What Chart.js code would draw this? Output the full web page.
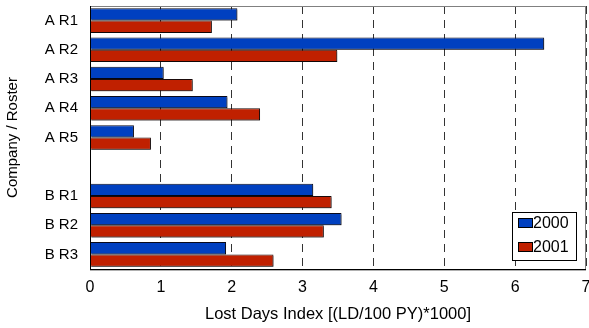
<!DOCTYPE html>
<html><head><meta charset="utf-8">
<script src="https://cdn.jsdelivr.net/npm/chart.js@4/dist/chart.umd.min.js"></script>
<style>html,body{margin:0;padding:0;background:#fff;}#wrap{width:589px;height:328px;}</style>
</head><body><div id="wrap"><canvas id="c" width="589" height="328"></canvas></div>
<script>
const categories = ['A R1','A R2','A R3','A R4','A R5','','B R1','B R2','B R3'];
const seriesNames = ['2000','2001'];
const values2000 = [2.08, 6.41, 1.04, 1.94, 0.62, null, 3.15, 3.55, 1.92];
const values2001 = [1.72, 3.49, 1.45, 2.40, 0.86, null, 3.41, 3.30, 2.59];
const xTicks = [0,1,2,3,4,5,6,7];
const xTitle = 'Lost Days Index [(LD/100 PY)*1000]';
const yTitle = 'Company / Roster';

const BLUE = '#0040C0', RED = '#C02000';
const FONT = 'Liberation Sans, Arial, sans-serif';

const shadowPlugin = {
  id: 'barShadow',
  beforeDatasetsDraw(chart) {
    const ctx = chart.ctx; ctx.save();
    ctx.shadowColor = 'rgba(0,0,0,0.35)';
    ctx.shadowOffsetX = 1.5; ctx.shadowOffsetY = 1.5; ctx.shadowBlur = 0;
  },
  afterDatasetsDraw(chart) { chart.ctx.restore(); }
};

const framePlugin = {
  id: 'frameLegend',
  afterDraw(chart) {
    const ctx = chart.ctx, a = chart.chartArea;
    ctx.save();
    ctx.lineWidth = 1;
    ctx.strokeStyle = '#808080';
    ctx.beginPath();
    ctx.moveTo(a.left, a.top + 0.5); ctx.lineTo(a.right, a.top + 0.5);
    ctx.moveTo(a.right - 0.5, a.top); ctx.lineTo(a.right - 0.5, a.bottom);
    ctx.stroke();
    ctx.strokeStyle = '#b0b0b0';
    ctx.beginPath();
    ctx.moveTo(a.left, a.bottom + 1.5); ctx.lineTo(a.right, a.bottom + 1.5);
    ctx.stroke();
    ctx.strokeStyle = '#000';
    ctx.beginPath();
    ctx.moveTo(a.left + 0.5, a.top); ctx.lineTo(a.left + 0.5, a.bottom + 1);
    ctx.moveTo(a.left, a.bottom + 0.5); ctx.lineTo(a.right, a.bottom + 0.5);
    ctx.stroke();
    // legend box
    const bx = a.right - 74, by = a.bottom - 57, bw = 64, bh = 48;
    ctx.fillStyle = '#fff';
    ctx.fillRect(bx, by, bw, bh);
    ctx.strokeStyle = '#000';
    ctx.strokeRect(bx + 0.5, by + 0.5, bw, bh);
    chart.data.datasets.forEach((ds, i) => {
      const cy = by + 11 + i * 24;
      ctx.fillStyle = ds.backgroundColor;
      ctx.fillRect(bx + 6, cy - 4.5, 14, 9);
      ctx.strokeStyle = '#000';
      ctx.strokeRect(bx + 6.5, cy - 4.5, 14, 9);
      ctx.fillStyle = '#000';
      ctx.font = '16px ' + FONT;
      ctx.textBaseline = 'middle';
      ctx.textAlign = 'left';
      ctx.fillText(ds.label, bx + 21, cy + 1);
    });
    ctx.restore();
  }
};

new Chart(document.getElementById('c'), {
  type: 'bar',
  data: {
    labels: categories,
    datasets: [
      { label: seriesNames[0], data: values2000, backgroundColor: BLUE, borderColor: '#0a0a1a', borderWidth: 1 },
      { label: seriesNames[1], data: values2001, backgroundColor: RED, borderColor: '#1a0a0a', borderWidth: 1 }
    ]
  },
  options: {
    indexAxis: 'y',
    responsive: false,
    animation: false,
    devicePixelRatio: 1,
    layout: { padding: { top: 6, right: 3, left: 0, bottom: 0 } },
    categoryPercentage: 0.84,
    barPercentage: 1.0,
    plugins: { legend: { display: false }, tooltip: { enabled: false } },
    scales: {
      x: {
        min: 0, max: 7,
        afterBuildTicks(scale) { scale.ticks = xTicks.map(v => ({ value: v })); },
        afterFit(scale) { scale.height = 59; scale.paddingLeft = 0; scale.paddingRight = 0; },
        ticks: { color: '#000', font: { family: FONT, size: 16 }, padding: 9, maxRotation: 0 },
        grid: { color: '#333', lineWidth: 1, drawTicks: false },
        border: { display: false, dash: [8, 6] },
        title: { display: true, text: xTitle, color: '#000', font: { family: FONT, size: 16.5 }, padding: { top: 0, bottom: 4 } }
      },
      y: {
        afterFit(scale) { scale.width = 90; scale.paddingTop = 0; scale.paddingBottom = 0; },
        ticks: { color: '#000', font: { family: FONT, size: 15 }, padding: 12 },
        grid: { display: false, drawTicks: false },
        border: { display: false },
        title: { display: true, text: yTitle, color: '#000', font: { family: FONT, size: 15 }, padding: { top: 4, bottom: 0 } }
      }
    }
  },
  plugins: [shadowPlugin, framePlugin]
});
</script></body></html>
